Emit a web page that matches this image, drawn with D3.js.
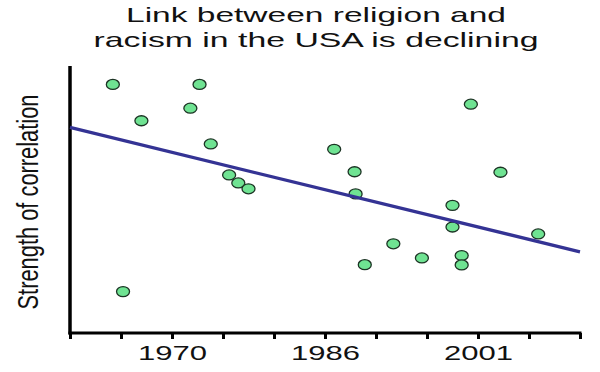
<!DOCTYPE html>
<html>
<head>
<meta charset="utf-8">
<script src="https://cdn.jsdelivr.net/npm/d3@7"></script>
<style>
  html, body { margin: 0; padding: 0; background: #fff; }
  svg { display: block; }
  text { font-family: "Liberation Sans", Arial, sans-serif; fill: #111; }
</style>
</head>
<body>
<svg id="chart" width="600" height="372"></svg>
<script>
// ---- data ----
const titleLines = ["Link between religion and", "racism in the USA is declining"];
const yLabel = "Strength of correlation";
const tickYears = [1960, 1965, 1970, 1975, 1980, 1985, 1990, 1995, 2000, 2005, 2010];
const tickLabels = ["", "", "1970", "", "", "1986", "", "", "2001", "", ""];
const pointYears = [1964.2, 1972.7, 1971.8, 1967.0, 1973.8, 1985.9, 1975.6, 1976.5, 1977.5,
                    1999.3, 1987.9, 2002.2, 1988.0, 1997.5, 1997.5, 2005.9, 1991.7, 1994.5,
                    1998.4, 1998.4, 1988.9, 1965.2];
const pointValues = [0.931, 0.931, 0.842, 0.795, 0.708, 0.688, 0.592, 0.562, 0.540,
                     0.857, 0.604, 0.602, 0.521, 0.478, 0.397, 0.371, 0.334, 0.281,
                     0.290, 0.255, 0.256, 0.155];
const trendYears = [1960, 2010];
const trendValues = [0.770, 0.304];

// ---- drawing ----
const svg = d3.select("#chart");
const x = d3.scaleLinear().domain([1960, 2010]).range([70, 580]);
const y = d3.scaleLinear().domain([0, 1]).range([333, 66]);

// title
svg.selectAll("text.title").data(titleLines).enter().append("text")
  .attr("class", "title")
  .attr("x", 316).attr("y", (d, i) => 21.5 + i * 25)
  .attr("text-anchor", "middle")
  .attr("font-size", 21)
  .attr("textLength", (d, i) => i === 0 ? 380 : 445)
  .attr("lengthAdjust", "spacingAndGlyphs")
  .text(d => d);

// y label
svg.append("text")
  .attr("transform", "translate(38,202) scale(1.33,1) rotate(-90)")
  .attr("text-anchor", "middle")
  .attr("font-size", 22)
  .attr("textLength", 215)
  .attr("lengthAdjust", "spacingAndGlyphs")
  .text(yLabel);

// x axis
const xAxis = d3.axisBottom(x)
  .tickValues(tickYears)
  .tickFormat((d, i) => tickLabels[i])
  .tickSize(6)
  .tickSizeOuter(0);
const gx = svg.append("g").attr("transform", "translate(0,333)").call(xAxis);
gx.select(".domain").remove();
gx.selectAll(".tick line").attr("stroke", "#000").attr("stroke-width", 3);
gx.selectAll(".tick text")
  .attr("font-size", 21)
  .attr("font-family", "Liberation Sans, Arial, sans-serif")
  .attr("fill", "#111")
  .attr("dy", 0).attr("y", 27)
  .attr("textLength", d => tickLabels[tickYears.indexOf(d)] ? 69 : null)
  .attr("lengthAdjust", "spacingAndGlyphs");
svg.append("line")
  .attr("x1", x(1960) - 1.5).attr("x2", x(2010) + 1.5)
  .attr("y1", y(0)).attr("y2", y(0))
  .attr("stroke", "#000").attr("stroke-width", 3);

// y axis line
svg.append("line")
  .attr("x1", x(1960)).attr("x2", x(1960))
  .attr("y1", y(1)).attr("y2", y(0) + 1.5)
  .attr("stroke", "#000").attr("stroke-width", 3.5);

// points
const pts = pointYears.map((d, i) => ({ yr: d, v: pointValues[i] }));
svg.selectAll("ellipse.pt").data(pts).enter().append("ellipse")
  .attr("class", "pt")
  .attr("cx", d => x(d.yr)).attr("cy", d => y(d.v))
  .attr("rx", 6.5).attr("ry", 5)
  .attr("fill", "#6fe392")
  .attr("stroke", "#1c3324")
  .attr("stroke-width", 1.3);

// trend line
const trend = trendYears.map((d, i) => [x(d), y(trendValues[i])]);
svg.append("path")
  .attr("d", d3.line()(trend))
  .attr("fill", "none")
  .attr("stroke", "#343394")
  .attr("stroke-width", 3.2);
</script>
</body>
</html>
